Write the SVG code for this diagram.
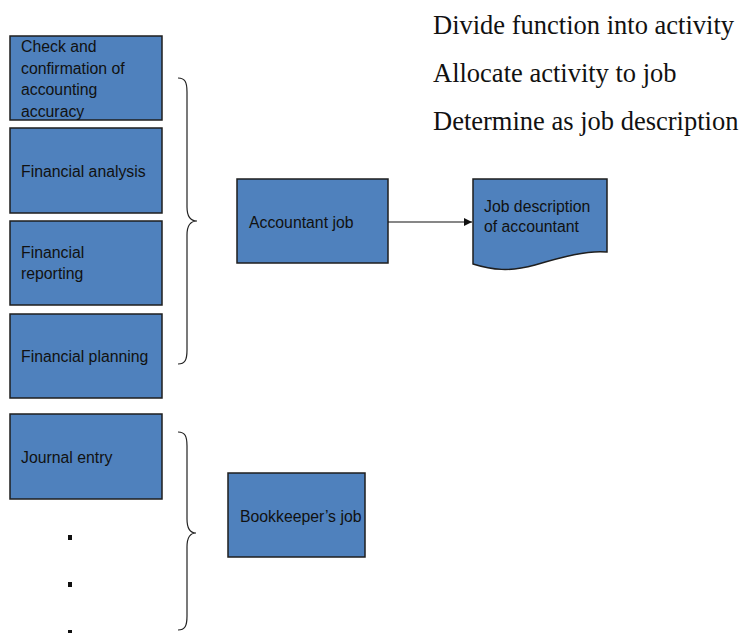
<svg xmlns="http://www.w3.org/2000/svg" width="744" height="633" viewBox="0 0 744 633">
  <style>
    .box { fill: #4f81bd; stroke: #1e1e1e; stroke-width: 1.5; }
    .lbl { font-family: "Liberation Sans", Arial, sans-serif; font-size: 15.8px; fill: #111; }
    .step { font-family: "Liberation Serif", "Times New Roman", serif; font-size: 26.5px; fill: #111; }
    .brace { fill: none; stroke: #222; stroke-width: 1.2; }
    .link { fill: none; stroke: #111; stroke-width: 1.2; }
  </style>
  <defs>
    <marker id="arrow" viewBox="0 0 10 10" refX="10" refY="5" markerWidth="8" markerHeight="8" markerUnits="userSpaceOnUse" orient="auto">
      <path d="M0,0 L10,5 L0,10 z" fill="#111"/>
    </marker>
  </defs>

  <rect width="744" height="633" fill="#ffffff"/>

  <!-- process steps -->
  <g id="steps">
    <text class="step" x="433" y="34">Divide function into activity</text>
    <text class="step" x="433" y="82">Allocate activity to job</text>
    <text class="step" x="433" y="130">Determine as job description</text>
  </g>

  <!-- activities -->
  <g id="check">
    <rect class="box" x="10" y="36" width="152" height="84"/>
    <text class="lbl" x="21" y="52">Check and</text>
    <text class="lbl" x="21" y="73.5">confirmation of</text>
    <text class="lbl" x="21" y="95">accounting</text>
    <text class="lbl" x="21" y="116.5">accuracy</text>
  </g>
  <g id="analysis">
    <rect class="box" x="10" y="128" width="152" height="85"/>
    <text class="lbl" x="21" y="177">Financial analysis</text>
  </g>
  <g id="reporting">
    <rect class="box" x="10" y="221" width="152" height="84"/>
    <text class="lbl" x="21" y="258">Financial</text>
    <text class="lbl" x="21" y="279">reporting</text>
  </g>
  <g id="planning">
    <rect class="box" x="10" y="314" width="152" height="84"/>
    <text class="lbl" x="21" y="362">Financial planning</text>
  </g>
  <g id="journal">
    <rect class="box" x="10" y="414" width="152" height="85"/>
    <text class="lbl" x="21" y="463">Journal entry</text>
  </g>
  <g id="more">
    <rect x="68" y="535" width="4" height="5" fill="#111"/>
    <rect x="68" y="582" width="4" height="5" fill="#111"/>
    <rect x="68" y="630" width="4" height="5" fill="#111"/>
  </g>

  <!-- jobs -->
  <g id="accountant">
    <rect class="box" x="237" y="179" width="151" height="84"/>
    <text class="lbl" x="249" y="228">Accountant job</text>
  </g>
  <g id="bookkeeper">
    <rect class="box" x="228" y="473" width="137" height="84"/>
    <text class="lbl" x="240" y="522">Bookkeeper’s job</text>
  </g>

  <!-- document -->
  <g id="description">
    <path class="box" d="M473,179 H607 V252 C588,250 562,257 535,265 C510,272 492,270 473,264 Z"/>
    <text class="lbl" x="484" y="212">Job description</text>
    <text class="lbl" x="484" y="232">of accountant</text>
  </g>

  <!-- braces and arrow -->
  <g id="connectors">
    <path class="brace" d="M178,78 C185,78 187,82 187,92 V207 C187,216 190,221 197,221 C190,221 187,226 187,235 V350 C187,360 185,364 178,364"/>
    <path class="brace" d="M178,432 C185,432 187,436 187,446 V519 C187,528 190,533 196,533 C190,533 187,538 187,547 V616 C187,626 185,630 178,630"/>
    <path class="link" d="M388,222 H472" marker-end="url(#arrow)"/>
  </g>
</svg>
